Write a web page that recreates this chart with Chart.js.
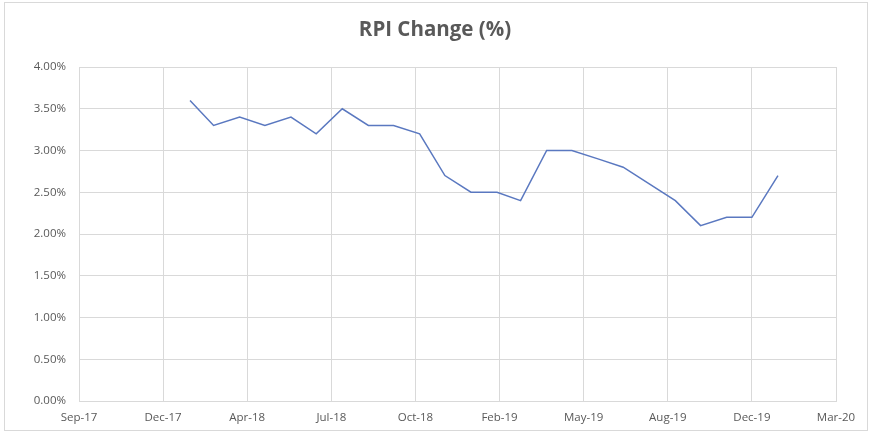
<!DOCTYPE html>
<html lang="en">

<head>
    <meta charset="UTF-8">
    <title>RPI Change (%)</title>
    <style>
        body { margin: 0; background: #fff; }
        #wrap { width: 870px; height: 434px; position: relative; }
    </style>
</head>

<body>
    <div id="wrap">
        <canvas id="myChart" width="870" height="434"></canvas>
    </div>

    <script src="https://cdn.jsdelivr.net/npm/chart.js"></script>
    <script>
        // months of the series (first day of month)
        const months = ['2018-02', '2018-03', '2018-04', '2018-05', '2018-06', '2018-07', '2018-08', '2018-09',
            '2018-10', '2018-11', '2018-12', '2019-01', '2019-02', '2019-03', '2019-04', '2019-05', '2019-06',
            '2019-07', '2019-08', '2019-09', '2019-10', '2019-11', '2019-12', '2020-01'];
        // RPI change in %
        const rpi = [3.6, 3.3, 3.4, 3.3, 3.4, 3.2, 3.5, 3.3, 3.3, 3.2, 2.7, 2.5, 2.5, 2.4,
            3.0, 3.0, 2.9, 2.8, 2.6, 2.4, 2.1, 2.2, 2.2, 2.7];
        // excel-style date axis: serial 43000 (22 Sep 2017) to 43900, every 100 days
        const xMin = 43000, xMax = 43900, xStep = 100;
        const xTickLabels = ['Sep-17', 'Dec-17', 'Apr-18', 'Jul-18', 'Oct-18', 'Feb-19', 'May-19', 'Aug-19', 'Dec-19', 'Mar-20'];
        const yTicks = [0, 0.5, 1, 1.5, 2, 2.5, 3, 3.5, 4];

        // date string -> excel serial number
        function serial(ym) {
            const [y, m] = ym.split('-').map(Number);
            return (Date.UTC(y, m - 1, 1) - Date.UTC(1899, 11, 30)) / 86400000;
        }

        const points = months.map((m, i) => ({ x: serial(m), y: rpi[i] }));

        const grey = '#595959';
        const gridCol = '#d9d9d9';

        // outer chart border like excel
        const frame = {
            id: 'frame',
            beforeDraw(chart) {
                const c = chart.ctx;
                c.save();
                c.fillStyle = '#fff';
                c.fillRect(0, 0, chart.width, chart.height);
                c.strokeStyle = '#d9d9d9';
                c.lineWidth = 1;
                c.strokeRect(4.5, 2.5, 863, 428);
                c.restore();
            }
        };

        const ctx = document.getElementById('myChart');

        const chart = new Chart(ctx, {
            type: 'line',
            data: {
                datasets: [{
                    label: 'RPI',
                    data: points,
                    borderColor: '#5a78c0',
                    borderWidth: 1.5,
                    pointRadius: 0,
                    fill: false,
                    tension: 0
                }]
            },
            options: {
                responsive: false,
                animation: false,
                layout: { padding: 0 },
                plugins: {
                    legend: { display: false },
                    tooltip: { enabled: false },
                    title: {
                        display: true,
                        text: 'RPI Change (%)',
                        color: grey,
                        font: { family: 'Open Sans', size: 20.5, weight: 'bold', lineHeight: 1.2 },
                        padding: { top: 18, bottom: 24.4 }
                    }
                },
                scales: {
                    x: {
                        type: 'linear',
                        min: xMin,
                        max: xMax,
                        afterFit: (s) => { s.height = 33; },
                        afterBuildTicks: (s) => {
                            s.ticks = xTickLabels.map((_, i) => ({ value: xMin + i * xStep }));
                        },
                        grid: { color: gridCol, drawTicks: false },
                        border: { color: gridCol },
                        ticks: {
                            color: grey,
                            font: { family: 'Open Sans', size: 11.5 },
                            padding: 10,
                            maxRotation: 0,
                            autoSkip: false,
                            callback: (v, i) => xTickLabels[i]
                        }
                    },
                    y: {
                        min: 0,
                        max: 4,
                        afterFit: (s) => { s.width = 79; },
                        afterBuildTicks: (s) => {
                            s.ticks = yTicks.map(v => ({ value: v }));
                        },
                        grid: { color: gridCol, drawTicks: false },
                        border: { color: gridCol },
                        ticks: {
                            color: grey,
                            font: { family: 'Open Sans', size: 11.5 },
                            padding: 13,
                            callback: (v) => v.toFixed(2) + '%'
                        }
                    },
                    // empty right margin so the title stays centred on the canvas
                    yRight: {
                        position: 'right',
                        min: 0,
                        max: 4,
                        afterFit: (s) => { s.width = 34; },
                        grid: { display: false },
                        border: { display: false },
                        ticks: { display: false }
                    }
                }
            },
            plugins: [frame]
        });
    </script>

</body>

</html>
